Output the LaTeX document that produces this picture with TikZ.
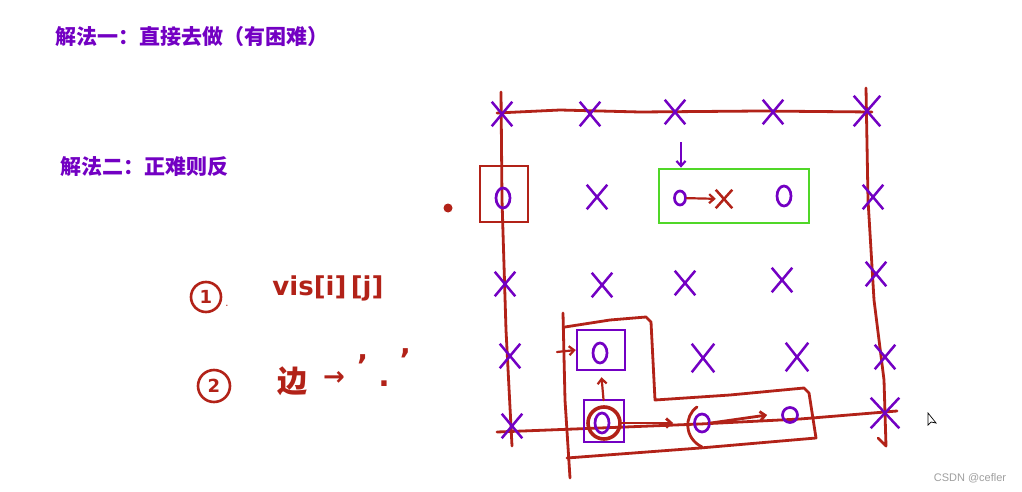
\documentclass[tikz,border=0pt]{standalone}
\usepackage{fontspec}
\setmainfont{DejaVu Sans}
\newfontfamily\cjk{Noto Sans CJK SC}
\newfontfamily\wmfont{Liberation Sans}
\usetikzlibrary{shapes.misc,shapes.geometric,arrows.meta}
\definecolor{pen}{RGB}{178,34,24}
\definecolor{ink}{RGB}{115,0,195}
\definecolor{lime}{RGB}{80,215,40}
\begin{document}
\begin{tikzpicture}[x=1pt,y=-1pt]
    \tikzstyle{xm}=[cross out,draw=ink,line width=2.5pt,minimum width=18pt,minimum height=22pt,inner sep=0pt]
    \tikzstyle{om}=[ellipse,draw=ink,line width=2.7pt,minimum width=14pt,minimum height=20pt,inner sep=0pt]
    \tikzstyle{redpen}=[draw=pen,line width=2.8pt,line cap=round,line join=round]
    \tikzstyle{tip}=[-{Straight Barb[length=5pt,width=9pt]}]
    \tikzstyle{title}=[anchor=west,text=ink,font=\cjk\bfseries\fontsize{21}{24}\selectfont]
    \tikzstyle{hand}=[text=pen,inner sep=0pt]
    \tikzstyle{ring}=[circle,draw=pen,line width=2.6pt,minimum size=30pt,inner sep=0pt,text=pen,font=\bfseries\fontsize{18}{18}\selectfont]
    \fill[white] (0,0) rectangle (1022,492);
    \useasboundingbox (0,0) rectangle (1022,492);
    % titles
    \node[title] (t1) at (52,37) {解法一：直接去做（有困难）};
    \node[title] (t2) at (57,167) {解法二：正难则反};
    % notes
    \node[ring] (n1) at (206,297) {1};
    \node[hand,font=\fontsize{10}{10}\selectfont] (n1d) at (227,306) {.};
    \node[hand,font=\bfseries\fontsize{26}{26}\selectfont] (n1v) at (328,288) {vis[i]\,[j]};
    \node[ring,minimum size=32pt] (n2) at (214,386) {2};
    \node[hand,font=\cjk\bfseries\fontsize{30}{30}\selectfont] (n2e) at (292,381) {边};
    \node[hand,font=\bfseries\fontsize{26}{26}\selectfont] (n2a) at (334,378) {→};
    \node[hand,font=\bfseries\fontsize{30}{30}\selectfont] (n2c) at (384,368) {'\hspace{10pt}\raisebox{-10pt}{.}\hspace{10pt}\raisebox{6pt}{'}};
    % board edges
    \draw[redpen] (497,113) -- (560,110) -- (640,112) -- (760,111) -- (872,112);
    \draw[redpen] (501,92) -- (502,200) -- (506,330) -- (512,446);
    \draw[redpen] (866,88) -- (868,200) -- (874,300) -- (884,380) -- (886,446) -- (878,438);
    \draw[redpen] (497,432) -- (600,428) -- (700,424) -- (800,419) -- (897,411);
    % row 1
    \node[xm] (x11) at (502,114) {};
    \node[xm] (x12) at (590,114) {};
    \node[xm] (x13) at (675,112) {};
    \node[xm] (x14) at (773,112) {};
    \node[xm,minimum width=24pt,minimum height=28pt] (x15) at (867,111) {};
    % row 2
    \node[om] (o21) at (503,198) {};
    \node[draw=pen,line width=2.8pt,minimum width=48pt,minimum height=56pt] (b21) at (504,194) {};
    \node[circle,fill=pen,inner sep=0pt,minimum size=9pt] (dot) at (448,208) {};
    \node[xm] (x22) at (597,197) {};
    \node[draw=lime,line width=2.8pt,minimum width=150pt,minimum height=54pt] (g) at (734,196) {};
    \node[om,minimum width=11pt,minimum height=14pt] (o22) at (680,198) {};
    \node[xm,draw=pen,minimum width=14pt,minimum height=16pt] (x23) at (724,199) {};
    \draw[redpen,line width=2.2pt,tip] (o22) -- (x23);
    \node[om] (o23) at (784,196) {};
    \coordinate (a0) at (681,142);
    \draw[ink,line width=2.2pt,tip] (a0) -- (g.north -| a0);
    \node[xm] (x25) at (873,197) {};
    % row 3
    \node[xm] (x31) at (505,284) {};
    \node[xm] (x32) at (602,285) {};
    \node[xm] (x33) at (685,283) {};
    \node[xm] (x34) at (782,280) {};
    \node[xm] (x35) at (876,274) {};
    % row 4
    \node[xm] (x41) at (510,356) {};
    \node[om] (o41) at (600,353) {};
    \node[draw=ink,line width=2.5pt,minimum width=48pt,minimum height=40pt] (b41) at (601,350) {};
    \coordinate (a1) at (557,352);
    \draw[redpen,line width=2.2pt,tip] (a1) -- (b41.west);
    \node[xm,minimum width=20pt,minimum height=26pt] (x43) at (703,358) {};
    \node[xm,minimum width=20pt,minimum height=26pt] (x44) at (797,357) {};
    \node[xm] (x45) at (885,357) {};
    % row 5
    \node[xm] (x51) at (512,426) {};
    \node[draw=ink,line width=1.2pt,minimum width=40pt,minimum height=42pt] (b51) at (604,421) {};
    \node[om] (o51) at (602,423) {};
    \node[circle,draw=pen,line width=3.6pt,minimum size=32pt] (c51) at (604,423) {};
    \node[om,minimum width=15pt,minimum height=18pt] (o52) at (702,423) {};
    \draw[redpen] (697,407) .. controls (684,416) and (684,438) .. (702,447);
    \node[om,rounded rectangle,minimum width=14pt,minimum height=15pt] (o53) at (790,415) {};
    \draw[redpen,tip] (c51.east) -- ([xshift=-20pt]o52.west);
    \draw[redpen,tip] (o52.east) -- ([xshift=-14pt]o53.west);
    \draw[redpen,line width=2.2pt,tip,shorten <=5pt,shorten >=6pt] (c51.north) -- (b41.south);
    \node[xm,minimum width=26pt,minimum height=28pt] (x55) at (885,413) {};
    % the L
    \draw[redpen] (563,313) -- (565,400) -- (570,478);
    \draw[redpen] (565,327) -- (610,320) -- (646,317) -- (651,322) -- (655,400) -- (730,395) -- (804,388) -- (809,393) -- (816,438) -- (700,448) -- (567,458);
    % watermark and cursor
    \node[text=gray!75,font=\wmfont\fontsize{11}{13}\selectfont] (wm) at (970,478) {CSDN @cefler};
    \draw[fill=white,draw=black,line width=0.7pt] (928,413) -- (928,425) -- (931,422) -- (936,423) -- cycle;
\end{tikzpicture}
\end{document}
